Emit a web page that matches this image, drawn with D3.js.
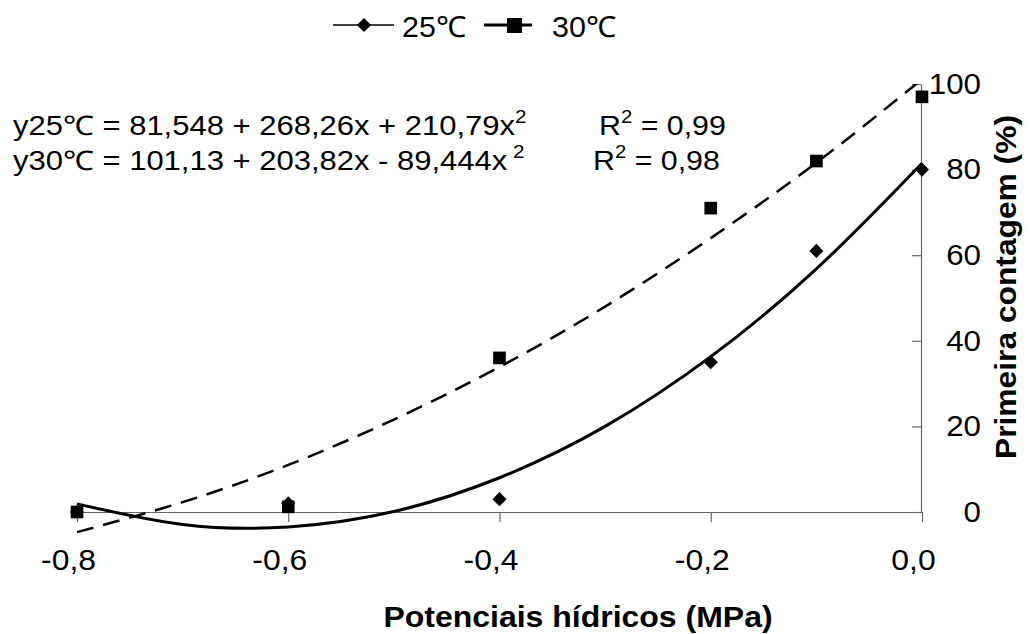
<!DOCTYPE html>
<html>
<head>
<meta charset="utf-8">
<script src="https://cdn.jsdelivr.net/npm/d3@7"></script>
<style>
  body { margin: 0; background: #fff; }
  svg { font-family: "Liberation Sans", Arial, sans-serif; }
</style>
</head>
<body>
<svg id="graph" width="1030" height="634"></svg>
<script>
// measured points
const potentials = [-0.8, -0.6, -0.4, -0.2, -0.1, 0.0];
const val25 = [0, 2, 3, 35, 61, 80];
const val30 = [0, 1.2, 36, 71, 82, 97];

// trend lines
const trendX = [-0.8, -0.7, -0.6, -0.5, -0.4, -0.3, -0.2, -0.1, 0.0];
const trend25 = [1.9, -2.9, -3.5, 0.1, 8.0, 20.0, 36.3, 56.8, 81.5];
const trend30 = [-4.7, 2.3, 11.0, 21.6, 33.9, 48.0, 64.0, 81.6, 101.1];

const xTicks = [-0.8, -0.6, -0.4, -0.2, 0.0];
const yTicks = [0, 20, 40, 60, 80, 100];

const svg = d3.select('#graph');

const xScale = d3.scaleLinear().domain([-0.8, 0]).range([77, 922]);
const yScale = d3.scaleLinear().domain([0, 100]).range([512, 84]);

const fmt = d => d3.format('.1f')(d).replace('.', ',').replace('−', '-');

// the original text is a bit wider than Liberation Sans
function stretch(sel, k) {
  sel.each(function() {
    const w = this.getComputedTextLength();
    d3.select(this).attr('textLength', w * k).attr('lengthAdjust', 'spacingAndGlyphs');
  });
}

// axes
const xAxis = d3.axisBottom(xScale).tickValues(xTicks).tickSize(10).tickSizeOuter(0).tickFormat(fmt);
const gx = svg.append('g').attr('transform', 'translate(0,512)').call(xAxis);
gx.selectAll('text').attr('y', 58).attr('dy', 0).attr('dx', -9)
  .style('font-size', '29px').attr('fill', '#000');
stretch(gx.selectAll('text'), 1.1);

const yAxis = d3.axisLeft(yScale).tickValues(yTicks).tickSize(9).tickSizeOuter(0);
const gy = svg.append('g').attr('transform', 'translate(921,0)').call(yAxis);
gy.selectAll('text').attr('x', 60).attr('text-anchor', 'end')
  .style('font-size', '29px').attr('fill', '#000');
stretch(gy.selectAll('text'), 1.08);

svg.selectAll('.domain, .tick line').attr('stroke', '#666').attr('stroke-width', 1.2);

// clip trend lines at top of plot area
svg.append('clipPath').attr('id', 'clip')
  .append('rect').attr('x', 0).attr('y', yScale(100)).attr('width', 1030).attr('height', 600);

const line = d3.line().x(d => xScale(d[0])).y(d => yScale(d[1])).curve(d3.curveNatural);

svg.append('path')
  .datum(trendX.map((x, i) => [x, trend30[i]]))
  .attr('clip-path', 'url(#clip)')
  .attr('d', line).attr('fill', 'none').attr('stroke', '#000')
  .attr('stroke-width', 2.5).attr('stroke-dasharray', '17,10');

svg.append('path')
  .datum(trendX.map((x, i) => [x, trend25[i]]))
  .attr('clip-path', 'url(#clip)')
  .attr('d', line).attr('fill', 'none').attr('stroke', '#000')
  .attr('stroke-width', 3);

// markers
const diamond = d3.symbol(d3.symbolSquare, 100);
const square = d3.symbol(d3.symbolSquare, 160);

svg.selectAll('.sq').data(potentials).enter().append('path')
  .attr('class', 'sq')
  .attr('d', square)
  .attr('transform', (d, i) => `translate(${xScale(d)},${yScale(val30[i])})`)
  .attr('fill', '#000');

svg.selectAll('.dm').data(potentials).enter().append('path')
  .attr('class', 'dm')
  .attr('d', diamond)
  .attr('transform', (d, i) => `translate(${xScale(d)},${yScale(val25[i])}) rotate(45)`)
  .attr('fill', '#000');

// legend
const lg = svg.append('g');
lg.append('line').attr('x1', 333).attr('x2', 394).attr('y1', 25).attr('y2', 25)
  .attr('stroke', '#000').attr('stroke-width', 1.5);
lg.append('path').attr('d', diamond).attr('transform', 'translate(364,25) rotate(45)');
lg.append('line').attr('x1', 484).attr('x2', 532).attr('y1', 25).attr('y2', 25)
  .attr('stroke', '#000').attr('stroke-width', 3);
lg.append('rect').attr('x', 507).attr('y', 18).attr('width', 15).attr('height', 15);
const lt = lg.selectAll('.lt').data([[402, '25℃'], [552, '30℃']]).enter().append('text')
  .attr('class', 'lt').attr('x', d => d[0]).attr('y', 37).style('font-size', '29px').text(d => d[1]);
stretch(lt, 1.05);

// equations
function eq(y, parts, x2) {
  const t = svg.append('text').attr('transform', `translate(13,${y}) scale(1.148,1)`).style('font-size', '27px');
  t.append('tspan').text(parts[0]);
  t.append('tspan').attr('dy', -12).style('font-size', '18px').text(parts[1]);
  const r = svg.append('text').attr('transform', `translate(${x2},${y}) scale(1.125,1)`).style('font-size', '27px');
  r.append('tspan').text('R');
  r.append('tspan').attr('dy', -12).style('font-size', '18px').text('2');
  r.append('tspan').attr('dy', 12).text(' = ' + parts[2]);
}
eq(135, ['y25℃ = 81,548 + 268,26x + 210,79x', '2', '0,99'], 599);
eq(170, ['y30℃ = 101,13 + 203,82x - 89,444x', ' 2', '0,98'], 593);

// titles
const xt = svg.append('text').attr('x', 578).attr('y', 627).attr('text-anchor', 'middle')
  .style('font-size', '30px').style('font-weight', 'bold')
  .text('Potenciais hídricos (MPa)');
stretch(xt, 1.066);
const yt = svg.append('text').attr('transform', 'translate(1016,287) rotate(-90)').attr('text-anchor', 'middle')
  .style('font-size', '30px').style('font-weight', 'bold')
  .text('Primeira contagem (%)');
stretch(yt, 1.058);
</script>
</body>
</html>
